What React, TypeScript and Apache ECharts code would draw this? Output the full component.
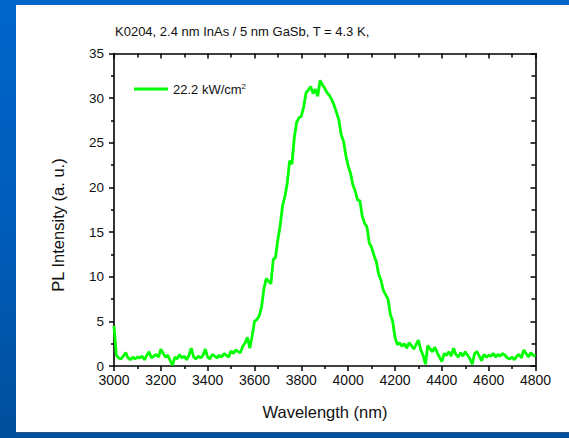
import React, { useEffect, useRef } from "react";
import * as echarts from "echarts";

const titleText = "K0204, 2.4 nm InAs / 5 nm GaSb, T = 4.3 K,";
const xAxisTitle = "Wavelength (nm)";
const yAxisTitle = "PL Intensity (a. u.)";
const seriesName = "22.2 kW/cm2";

const xMin = 3000;
const xMax = 4800;
const xInterval = 200;
const yMin = 0;
const yMax = 35;
const yInterval = 5;

// sampling grid of the spectrum (nm)
const wavelengthStart = 3000;
const wavelengthStep = 10;

// PL intensity, one value per 10 nm from 3000 to 4800 nm
const intensity = [
  4.5, 1.2, 0.9, 0.8, 1.1, 1.5, 0.9, 0.7, 1.0, 0.8,
  1.0, 0.9, 1.1, 0.7, 1.2, 1.6, 0.9, 1.1, 1.3, 1.0,
  1.9, 1.4, 1.0, 1.2, 0.6, 0.1, 1.0, 0.8, 1.3, 0.9,
  1.1, 0.7, 1.2, 2.0, 1.0, 0.8, 1.1, 0.9, 1.2, 1.9,
  1.0, 0.8, 1.3, 1.1, 0.9, 1.2, 1.0, 1.4, 1.2, 1.0,
  1.7, 1.4, 1.8, 1.6, 1.5, 2.2, 2.6, 3.2, 2.0, 3.4,
  5.0, 5.2, 5.6, 6.6, 8.6, 9.8, 9.5, 9.2, 11.9, 12.2,
  14.2, 15.8, 18.0, 19.0, 20.5, 23.0, 22.6, 25.6, 27.3, 27.8,
  28.0, 29.0, 30.6, 30.9, 31.3, 30.5, 31.0, 30.2, 32.0, 31.5,
  31.1, 30.6, 30.3, 29.8, 29.2, 28.4, 27.6, 25.9, 25.2, 23.6,
  22.4, 21.6, 20.3, 19.6, 18.6, 18.5, 16.8, 16.0, 15.6, 13.8,
  13.3, 12.4, 11.7, 10.3, 9.6, 8.5, 8.0, 7.5, 5.8, 5.0,
  3.2, 2.4, 2.6, 2.2, 2.5, 2.0, 2.6, 2.3, 1.9, 2.4,
  2.9, 1.8, 1.2, 0.2, 2.3, 1.9, 1.6, 2.1, 1.5, 1.0,
  0.5, 1.4, 1.2, 1.6, 1.1, 2.0, 1.3, 1.0, 1.5, 1.1,
  1.6, 1.2, 0.8, 0.2, 1.4, 1.6, 1.1, 0.6, 1.3, 1.0,
  1.2, 1.1, 1.4, 1.0, 1.3, 1.1, 1.4, 1.2, 0.9, 0.8,
  1.0, 0.7, 1.1, 1.3, 0.9, 1.8, 1.4, 1.0, 1.5, 1.2,
  1.1,
];

const FONT = "'Liberation Sans', Arial, Helvetica, sans-serif";

export default function App() {
  const ref = useRef<HTMLDivElement>(null);

  useEffect(() => {
    if (!ref.current) return;
    const chart = echarts.init(ref.current, null, { renderer: "svg" });
    const data = intensity.map((v, i) => [wavelengthStart + i * wavelengthStep, v]);

    const axisLine = { show: true, onZero: false, lineStyle: { color: "#000", width: 1.6 } };

    const option: any = {
      animation: false,
      backgroundColor: "transparent",
      textStyle: { fontFamily: FONT },
      title: {
        text: titleText,
        left: 110,
        top: 20,
        textStyle: { fontFamily: FONT, fontSize: 13, fontWeight: "normal", color: "#111" },
      },
      grid: { left: 114, right: 33.5, top: 53.5, bottom: 72, containLabel: false },
      legend: {
        data: [seriesName],
        left: 129,
        top: 77,
        icon: "rect",
        itemWidth: 34,
        itemHeight: 3,
        formatter: () => "{a|22.2 kW/cm}{s|2}",
        textStyle: {
          fontFamily: FONT,
          color: "#111",
          rich: {
            a: { fontFamily: FONT, fontSize: 13, color: "#111" },
            s: { fontFamily: FONT, fontSize: 8, color: "#111", verticalAlign: "top", padding: [0, 0, 6, 0] },
          },
        },
      },
      xAxis: [
        {
          type: "value",
          position: "bottom",
          min: xMin,
          max: xMax,
          interval: xInterval,
          axisLine,
          axisTick: { show: true, inside: false, length: 5, lineStyle: { color: "#000", width: 1.5 } },
          minorTick: { show: true, splitNumber: 2, length: 3, lineStyle: { color: "#000", width: 1.5 } },
          axisLabel: { color: "#111", fontSize: 14, margin: 7, fontFamily: FONT, formatter: (v: number) => String(v) },
          splitLine: { show: false },
          minorSplitLine: { show: false },
        },
        {
          type: "value",
          position: "top",
          min: xMin,
          max: xMax,
          interval: xInterval,
          axisLine,
          axisTick: { show: true, inside: true, length: 5, lineStyle: { color: "#000", width: 1.5 } },
          minorTick: { show: true, splitNumber: 2, length: 4, lineStyle: { color: "#000", width: 1.5 } },
          axisLabel: { show: false },
          splitLine: { show: false },
        },
      ],
      yAxis: [
        {
          type: "value",
          position: "left",
          min: yMin,
          max: yMax,
          interval: yInterval,
          axisLine,
          axisTick: { show: true, inside: false, length: 5, lineStyle: { color: "#000", width: 1.5 } },
          minorTick: { show: true, splitNumber: 2, length: 3, lineStyle: { color: "#000", width: 1.5 } },
          axisLabel: { color: "#111", fontSize: 13.5, margin: 10, fontFamily: FONT },
          splitLine: { show: false },
          minorSplitLine: { show: false },
        },
        {
          type: "value",
          position: "right",
          min: yMin,
          max: yMax,
          interval: yInterval,
          axisLine,
          axisTick: { show: true, inside: true, length: 5, lineStyle: { color: "#000", width: 1.5 } },
          minorTick: { show: true, splitNumber: 2, length: 4, lineStyle: { color: "#000", width: 1.5 } },
          axisLabel: { show: false },
          splitLine: { show: false },
        },
      ],
      graphic: [
        {
          type: "text",
          x: 325,
          y: 412,
          style: {
            text: xAxisTitle,
            fontFamily: FONT,
            fontSize: 16.5,
            fill: "#111",
            textAlign: "center",
            textVerticalAlign: "middle",
          },
        },
        {
          type: "text",
          x: 58,
          y: 225,
          rotation: Math.PI / 2,
          style: {
            text: yAxisTitle,
            fontFamily: FONT,
            fontSize: 16.5,
            fill: "#111",
            textAlign: "center",
            textVerticalAlign: "middle",
          },
        },
      ],
      series: [
        {
          name: seriesName,
          type: "line",
          xAxisIndex: 0,
          yAxisIndex: 0,
          data,
          showSymbol: false,
          symbol: "none",
          color: "#00ff00",
          lineStyle: { color: "#00ff00", width: 2.8 },
          clip: true,
        },
      ],
    };

    chart.setOption(option);
    return () => chart.dispose();
  }, []);

  return (
    <div
      style={{
        position: "fixed",
        left: 0,
        top: 0,
        width: 569,
        height: 438,
        background: "linear-gradient(to bottom, #0066cc 0%, #005bb8 55%, #004f9c 100%)",
        overflow: "hidden",
      }}
    >
      <div
        style={{
          position: "absolute",
          left: 16,
          top: 5,
          width: 553,
          height: 428,
          background: "#ffffff",
          borderBottom: "1px solid #2b557f",
          boxSizing: "border-box",
        }}
      />
      <div ref={ref} style={{ position: "absolute", left: 0, top: 0, width: 569, height: 438 }} />
    </div>
  );
}
